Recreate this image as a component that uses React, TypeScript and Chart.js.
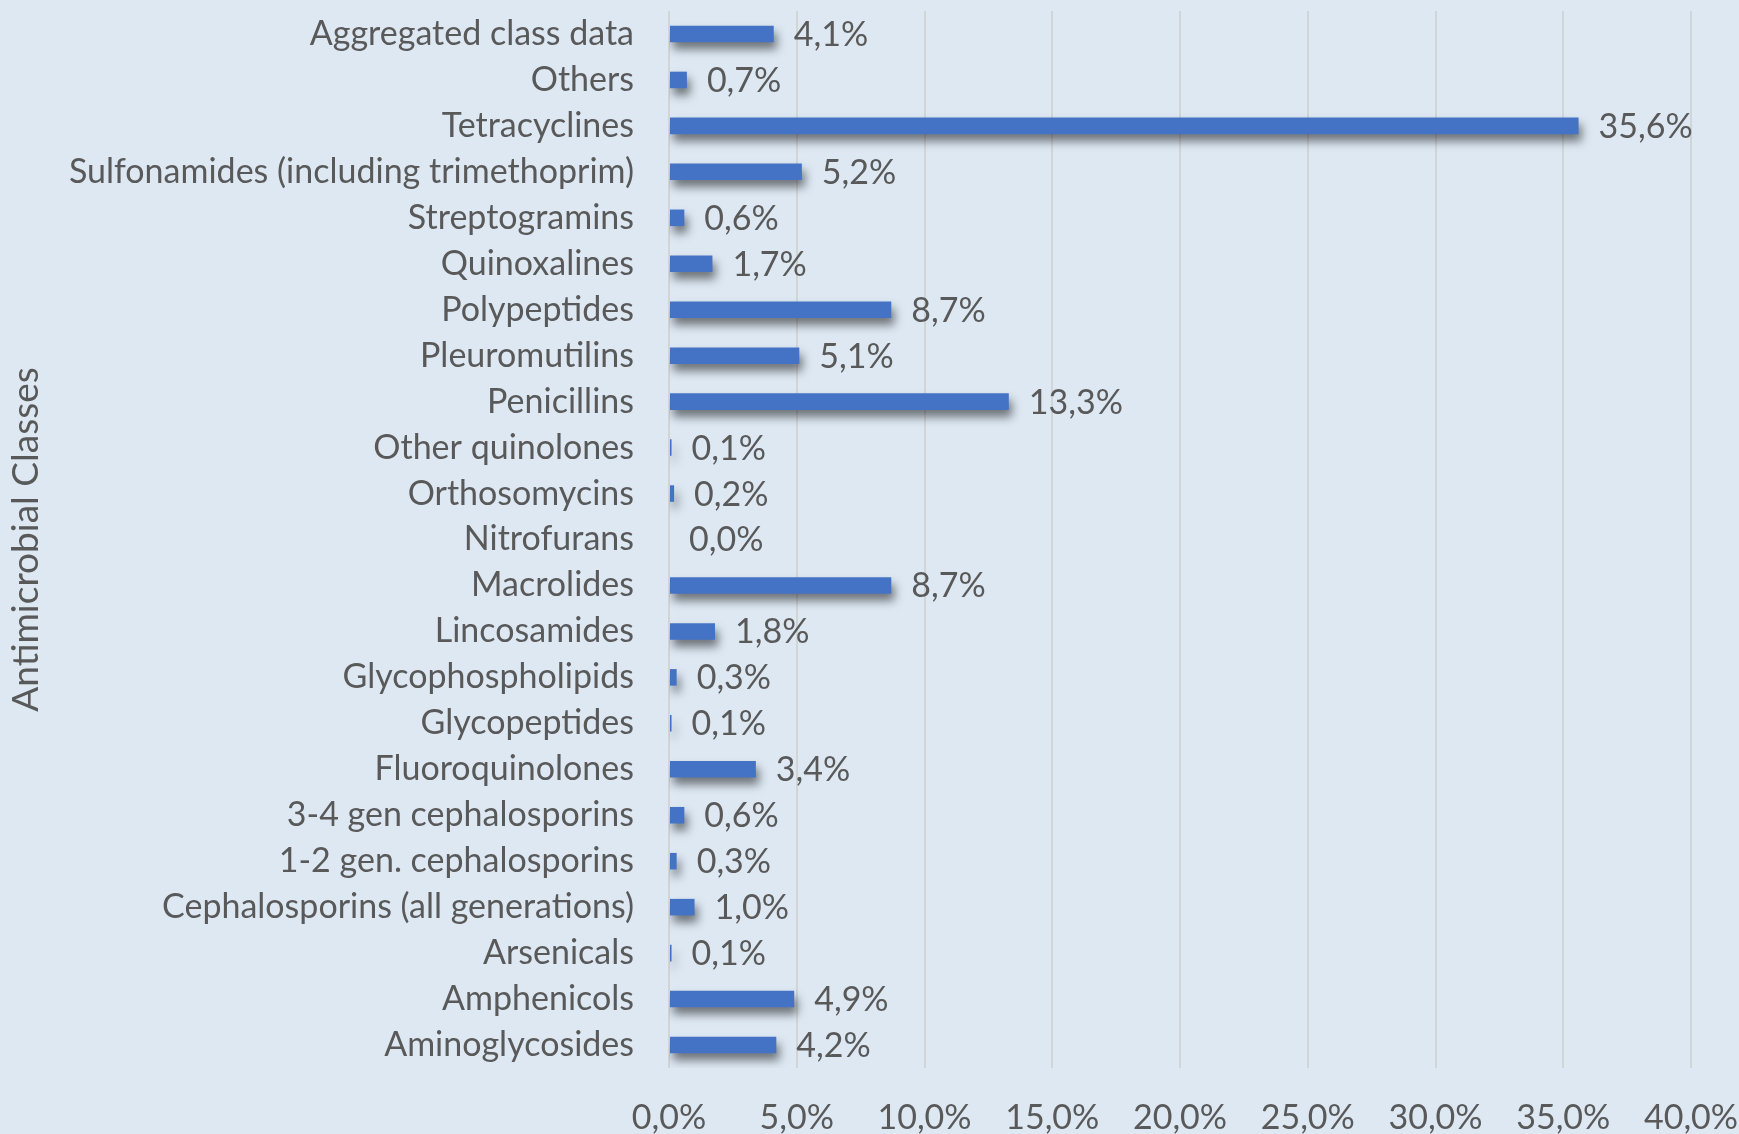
import React, { useEffect, useRef } from "react";
import { Chart, registerables } from "chart.js";

Chart.register(...registerables);

const categories: string[] = [
  "Aggregated class data",
  "Others",
  "Tetracyclines",
  "Sulfonamides (including trimethoprim)",
  "Streptogramins",
  "Quinoxalines",
  "Polypeptides",
  "Pleuromutilins",
  "Penicillins",
  "Other quinolones",
  "Orthosomycins",
  "Nitrofurans",
  "Macrolides",
  "Lincosamides",
  "Glycophospholipids",
  "Glycopeptides",
  "Fluoroquinolones",
  "3-4 gen cephalosporins",
  "1-2 gen. cephalosporins",
  "Cephalosporins (all generations)",
  "Arsenicals",
  "Amphenicols",
  "Aminoglycosides",
];

const shares: number[] = [
  4.1, 0.7, 35.6, 5.2, 0.6, 1.7, 8.7, 5.1, 13.3, 0.1, 0.2, 0.0, 8.7, 1.8, 0.3, 0.1, 3.4, 0.6,
  0.3, 1.0, 0.1, 4.9, 4.2,
];

const xTickMin = 0;
const xTickMax = 40;
const xTickStep = 5;
const axisTitle = "Antimicrobial Classes";

const BG = "#dde8f3";
const TEXT = "#595959";
const BAR = "#4472C4";
const FONT = "Lato, 'Open Sans', sans-serif";

const fmt = (v: number) => v.toFixed(1).replace(".", ",") + "%";

export default function App() {
  const ref = useRef<HTMLCanvasElement | null>(null);

  useEffect(() => {
    document.body.style.margin = "0";
    document.body.style.background = BG;
    const canvas = ref.current;
    if (!canvas) return;

    const shadowPlugin = {
      id: "barShadow",
      beforeDatasetsDraw(chart: any) {
        const ctx = chart.ctx;
        ctx.save();
        ctx.shadowColor = "rgba(0,0,0,0.5)";
        ctx.shadowBlur = 10;
        ctx.shadowOffsetX = 3;
        ctx.shadowOffsetY = 7;
      },
      afterDatasetsDraw(chart: any) {
        const ctx = chart.ctx;
        ctx.restore();
        const meta = chart.getDatasetMeta(0);
        ctx.save();
        ctx.fillStyle = TEXT;
        ctx.font = `34px ${FONT}`;
        ctx.textAlign = "left";
        ctx.textBaseline = "middle";
        meta.data.forEach((el: any, i: number) => {
          const v = chart.data.datasets[0].data[i] as number;
          ctx.fillText(fmt(v), el.x + 20, el.y + 1);
        });
        ctx.restore();
      },
    };

    const chart = new Chart(canvas, {
      type: "bar",
      data: {
        labels: categories,
        datasets: [
          {
            data: shares,
            backgroundColor: BAR,
            borderWidth: 0,
            barPercentage: 0.36,
            categoryPercentage: 1,
          },
        ],
      },
      options: {
        indexAxis: "y",
        responsive: false,
        animation: false,
        maintainAspectRatio: false,
        layout: { padding: { top: 11, right: 48, left: 0, bottom: 0 } },
        plugins: {
          legend: { display: false },
          tooltip: { enabled: false },
        },
        scales: {
          x: {
            min: xTickMin,
            max: xTickMax,
            border: { display: false },
            grid: {
              color: "#d2d5d6",
              lineWidth: 2,
              drawTicks: false,
            },
            ticks: {
              stepSize: xTickStep,
              padding: 30,
              color: TEXT,
              font: { family: FONT, size: 34 },
              maxRotation: 0,
              callback: (v: any) => fmt(Number(v)),
            },
            afterFit: (scale: any) => {
              scale.height = 66;
              scale.paddingLeft = 0;
              scale.paddingRight = 0;
            },
          },
          y: {
            border: { display: false },
            grid: { display: false, drawTicks: false },
            ticks: {
              padding: 35,
              color: TEXT,
              font: { family: FONT, size: 34 },
              autoSkip: false,
            },
            title: {
              display: true,
              text: axisTitle,
              color: TEXT,
              font: { family: FONT, size: 37 },
              padding: { top: 4, bottom: 0 },
            },
            afterFit: (scale: any) => {
              scale.width = 669;
              scale.paddingTop = 0;
              scale.paddingBottom = 0;
            },
          },
        },
      },
      plugins: [shadowPlugin],
    });

    return () => chart.destroy();
  }, []);

  return (
    <div style={{ width: 1739, height: 1134, background: BG }}>
      <canvas ref={ref} width={1739} height={1134} style={{ display: "block" }} />
    </div>
  );
}
